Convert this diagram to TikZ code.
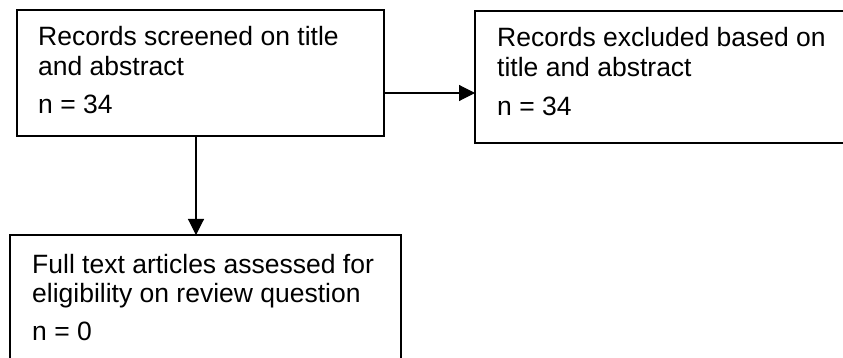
\documentclass[tikz,border=0pt]{standalone}
\usepackage{fontspec}
\setmainfont{Liberation Sans}
\usetikzlibrary{arrows.meta,calc}
\begin{document}
\begin{tikzpicture}[x=1pt,y=-1pt,
  box/.style={draw=black, line width=2.6pt, rectangle, anchor=north west, inner sep=0pt, outer sep=0pt},
  txt/.style={anchor=base west, inner sep=0pt, font=\fontsize{26.5}{30}\selectfont},
  arr/.style={draw=black, line width=1.1pt, -{Triangle[length=16pt,width=16pt]}}]
\useasboundingbox (0,0) rectangle (843,358);
\node[box, minimum width=367pt, minimum height=126pt] (b1) at (17,10) {};
\node[box, minimum width=374pt, minimum height=132pt] (b2) at (475,11) {};
\node[box, minimum width=391pt, minimum height=140pt] (b3) at (10,235) {};
\node[txt] (t1a) at (38,46) {Records screened on title};
\node[txt] (t1b) at (38,76) {and abstract};
\node[txt] (t1c) at (38,114) {n = 34};
\node[txt] (t2a) at (497,47) {Records excluded based on};
\node[txt] (t2b) at (497,77) {title and abstract};
\node[txt] (t2c) at (497,116) {n = 34};
\node[txt] (t3a) at (32,273) {Full text articles assessed for};
\node[txt] (t3b) at (32,302) {eligibility on review question};
\node[txt] (t3c) at (32,340) {n = 0};
\draw[arr] ([yshift=-20pt]b1.east) coordinate (h1) -- (h1 -| b2.west);
\draw[arr] ([xshift=-4.5pt,yshift=-1pt]b1.south) coordinate (v1) -- (v1 |- b3.north);
\end{tikzpicture}
\end{document}
